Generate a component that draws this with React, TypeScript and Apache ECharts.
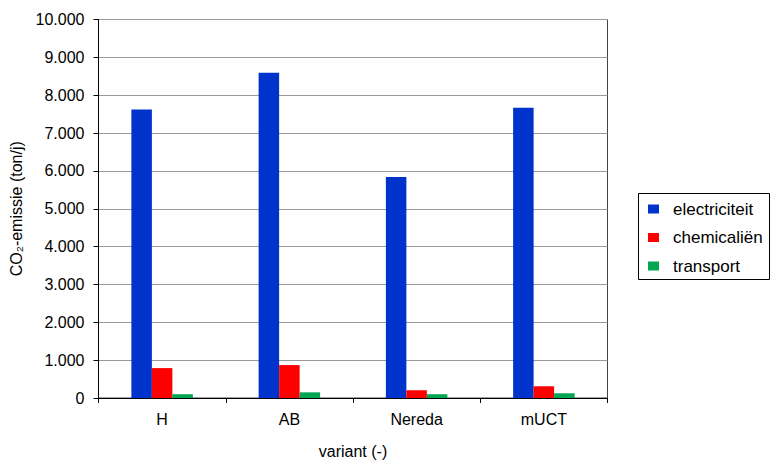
import React, { useEffect, useRef } from "react";
import * as echarts from "echarts";

// Treatment variants along the x axis
const categories = ["H", "AB", "Nereda", "mUCT"];

// Annual CO2 emission per source (ton/j)
const electriciteit = [7620, 8590, 5840, 7670];
const chemicalien = [790, 870, 205, 310];
const transport = [100, 150, 100, 125];

const seriesNames = ["electriciteit", "chemicaliën", "transport"];
const seriesColors = ["#0033CC", "#FF0000", "#00A651"];

const FONT = "'Liberation Sans', Arial, sans-serif";

// Dutch thousands separator: 10000 -> "10.000"
const formatThousands = (v: number) =>
  String(Math.round(v)).replace(/\B(?=(\d{3})+(?!\d))/g, ".");

export default function App() {
  const ref = useRef<HTMLDivElement>(null);

  useEffect(() => {
    if (!ref.current) return;
    const chart = echarts.init(ref.current, undefined, { renderer: "svg" });
    const data = [electriciteit, chemicalien, transport];

    chart.setOption({
      animation: false,
      backgroundColor: "#ffffff",
      textStyle: { fontFamily: FONT, color: "#000" },
      grid: {
        left: 98.5,
        right: 164.5,
        top: 19.5,
        bottom: 65,
        show: true,
        borderColor: "#444",
        borderWidth: 1,
        backgroundColor: "transparent",
      },
      legend: {
        orient: "vertical",
        left: 648,
        top: 200,
        padding: 0,
        icon: "rect",
        itemWidth: 11,
        itemHeight: 9,
        itemGap: 10.5,
        data: seriesNames,
        textStyle: {
          fontFamily: FONT,
          fontSize: 17,
          lineHeight: 18,
          color: "#000",
          padding: [0, 0, 0, 9],
        },
      },
      graphic: [
        {
          type: "rect",
          shape: { x: 638.5, y: 193.5, width: 131, height: 86 },
          style: { fill: "transparent", stroke: "#000", lineWidth: 1 },
          silent: true,
        },
      ],
      xAxis: {
        type: "category",
        data: categories,
        name: "variant (-)",
        nameLocation: "middle",
        nameGap: 45,
        nameTextStyle: { fontFamily: FONT, fontSize: 16, color: "#000" },
        axisLine: { lineStyle: { color: "#000", width: 1 } },
        axisTick: { show: true, length: 5, lineStyle: { color: "#000" } },
        axisLabel: { fontFamily: FONT, fontSize: 16, color: "#000", margin: 13 },
      },
      yAxis: {
        type: "value",
        min: 0,
        max: 10000,
        interval: 1000,
        name: "CO₂-emissie (ton/j)",
        nameLocation: "middle",
        nameRotate: 90,
        nameGap: 71,
        nameTextStyle: { fontFamily: FONT, fontSize: 16, color: "#000" },
        axisLine: { show: true, lineStyle: { color: "#000", width: 1 } },
        axisTick: { show: true, length: 5, lineStyle: { color: "#000" } },
        axisLabel: {
          fontFamily: FONT,
          fontSize: 16,
          color: "#000",
          margin: 14,
          formatter: (v: number) => formatThousands(v),
        },
        splitLine: { show: true, lineStyle: { color: "#999", width: 1 } },
      },
      series: seriesNames.map((name, i) => ({
        name,
        type: "bar",
        data: data[i],
        barWidth: 20.5,
        barGap: "0%",
        itemStyle: { color: seriesColors[i] },
      })),
    });

    return () => chart.dispose();
  }, []);

  return (
    <div
      ref={ref}
      style={{ position: "fixed", left: 0, top: 0, width: 772, height: 464 }}
    />
  );
}
